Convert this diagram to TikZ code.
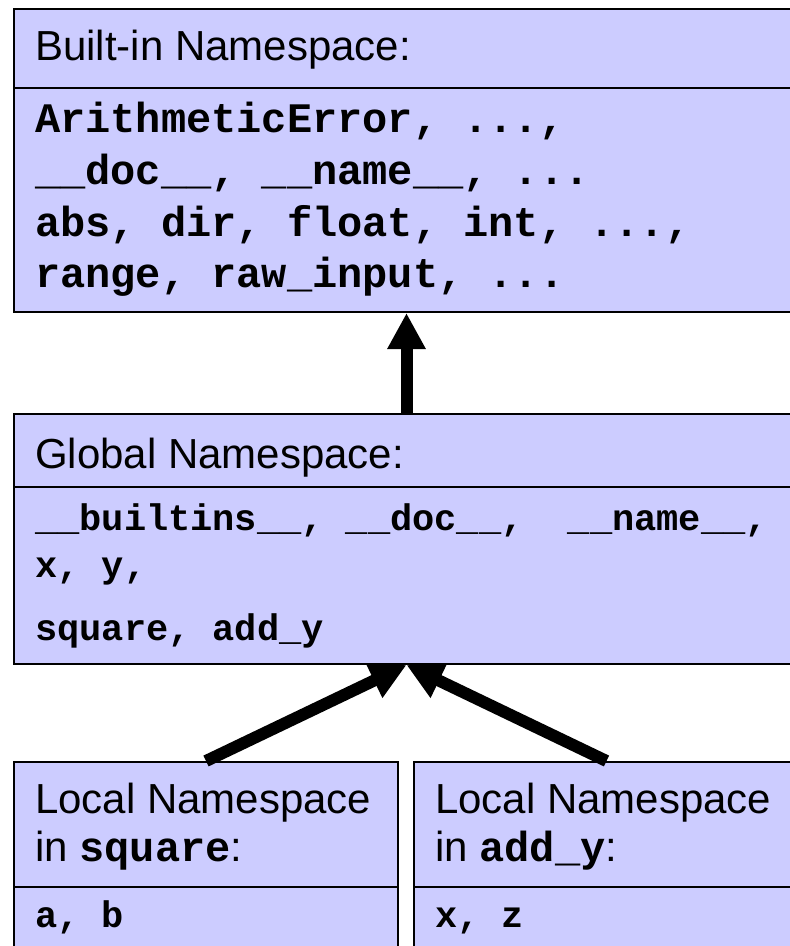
\documentclass[tikz,border=0pt]{standalone}
\usepackage{fontspec}
\setmainfont{Liberation Sans}
\newfontfamily\codefont{Liberation Mono}
\usetikzlibrary{arrows.meta}
\definecolor{nsfill}{HTML}{CCCCFF}

\begin{document}
\begin{tikzpicture}[x=1pt, y=-1pt,
  panel/.style={draw=black, line width=2pt, fill=nsfill, inner sep=0pt, anchor=north west},
  divider/.style={draw=black, line width=2pt},
  titletext/.style={anchor=base west, inner sep=0pt, font=\fontsize{42}{48}\selectfont},
  bigcode/.style={anchor=base west, inner sep=0pt, font=\codefont\bfseries\fontsize{42}{48}\selectfont},
  smallcode/.style={anchor=base west, inner sep=0pt, font=\codefont\bfseries\fontsize{37}{42}\selectfont},
  link/.style={line width=12pt, -{Triangle[width=36pt,length=36pt]}}]

\useasboundingbox (0,0) rectangle (790,946);
\clip (0,0) rectangle (790,946);

% ---- built-in namespace panel ----
\node[panel, minimum width=785pt, minimum height=303pt] (builtin) at (13,8) {};
\draw[divider] (13,88) -- (800,88);
\node[titletext] (bt) at (35,60) {Built-in Namespace:};
\node[bigcode] (b1) at (35,132) {ArithmeticError, ...,};
\node[bigcode] (b2) at (35,184) {\_\_doc\_\_, \_\_name\_\_, ...};
\node[bigcode] (b3) at (35,236) {abs, dir, float, int, ...,};
\node[bigcode] (b4) at (35,287) {range, raw\_input, ...};

% ---- global namespace panel ----
\node[panel, minimum width=785pt, minimum height=250pt] (global) at (13,413) {};
\draw[divider] (13,487) -- (800,487);
\node[titletext] (gt) at (35,468) {Global Namespace:};
\node[smallcode] (g1) at (35,530) {\_\_builtins\_\_, \_\_doc\_\_,\ \ \_\_name\_\_,};
\node[smallcode] (g2) at (35,577) {x, y,};
\node[smallcode] (g3) at (35,640) {square, add\_y};

% ---- local namespace panels ----
\node[panel, minimum width=384pt, minimum height=220pt] (locsq) at (13,761) {};
\draw[divider] (13,887) -- (397,887);
\node[titletext] (l1a) at (35,813) {Local Namespace};
\node[titletext] (l1b) at (35,861) {in {\codefont\bfseries square}:};
\node[smallcode] (l1c) at (35,927) {a, b};

\node[panel, minimum width=385pt, minimum height=220pt] (locadd) at (413,761) {};
\draw[divider] (413,887) -- (800,887);
\node[titletext] (l2a) at (435,813) {Local Namespace};
\node[titletext] (l2b) at (435,861) {in {\codefont\bfseries add\_y}:};
\node[smallcode] (l2c) at (435,927) {x, z};

% ---- lookup arrows ----
\draw[link] (global.north) -- (builtin.south);
\draw[link] (locsq.north) -- (global.south);
\draw[link] (locadd.north) -- (global.south);
\end{tikzpicture}
\end{document}
